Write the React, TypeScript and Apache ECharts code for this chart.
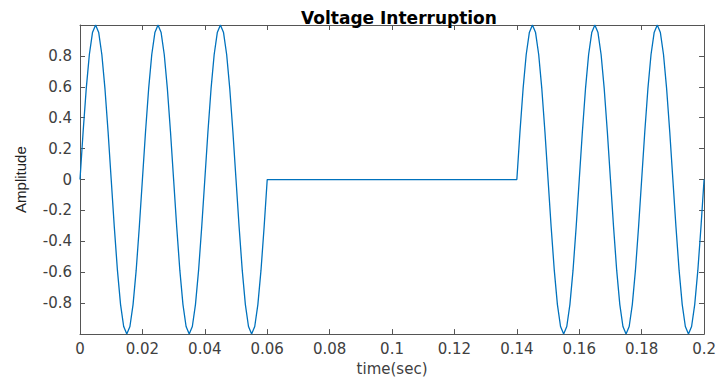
import React, { useEffect, useRef } from "react";
import * as echarts from "echarts";

const chartTitle = "Voltage Interruption";
const xName = "time(sec)";
const yName = "Amplitude";
const sampleStep = 0.001;
const beforeStart = 0;
const afterStart = 0.14;
const xMin = 0;
const xMax = 0.2;
const xInterval = 0.02;
const yMin = -1;
const yMax = 1;
const yInterval = 0.2;

// samples: 3 cycles before the interruption (0 .. 0.06 s)
const waveBefore = [
  0, 0.309, 0.588, 0.809, 0.951, 1, 0.951, 0.809, 0.588, 0.309,
  0, -0.309, -0.588, -0.809, -0.951, -1, -0.951, -0.809, -0.588, -0.309,
  0, 0.309, 0.588, 0.809, 0.951, 1, 0.951, 0.809, 0.588, 0.309,
  0, -0.309, -0.588, -0.809, -0.951, -1, -0.951, -0.809, -0.588, -0.309,
  0, 0.309, 0.588, 0.809, 0.951, 1, 0.951, 0.809, 0.588, 0.309,
  0, -0.309, -0.588, -0.809, -0.951, -1, -0.951, -0.809, -0.588, -0.309,
  0,
];

// 3 cycles after the interruption (0.14 .. 0.2 s)
const waveAfter = [
  0, 0.309, 0.588, 0.809, 0.951, 1, 0.951, 0.809, 0.588, 0.309,
  0, -0.309, -0.588, -0.809, -0.951, -1, -0.951, -0.809, -0.588, -0.309,
  0, 0.309, 0.588, 0.809, 0.951, 1, 0.951, 0.809, 0.588, 0.309,
  0, -0.309, -0.588, -0.809, -0.951, -1, -0.951, -0.809, -0.588, -0.309,
  0, 0.309, 0.588, 0.809, 0.951, 1, 0.951, 0.809, 0.588, 0.309,
  0, -0.309, -0.588, -0.809, -0.951, -1, -0.951, -0.809, -0.588, -0.309,
  0,
];

export default function App() {
  const ref = useRef<HTMLDivElement>(null);

  useEffect(() => {
    if (!ref.current) return;
    const chart = echarts.init(ref.current, undefined, { renderer: "svg" });

    const data: number[][] = [
      ...waveBefore.map((v, i) => [beforeStart + i * sampleStep, v]),
      ...waveAfter.map((v, i) => [afterStart + i * sampleStep, v]),
    ];

    const axisColor = "#555555";
    const labelColor = "#404040";
    const font = "DejaVu Sans";

    const xFmt = (v: number) => String(+v.toFixed(2));
    const yFmt = (v: number) => (Math.abs(v) > 0.999 ? "" : String(+v.toFixed(1)));

    const common = {
      axisLine: { show: true, onZero: false, lineStyle: { color: axisColor, width: 1 } },
      axisTick: { show: true, inside: true, length: 5, lineStyle: { color: axisColor } },
      splitLine: { show: false },
    };

    chart.setOption({
      animation: false,
      backgroundColor: "#ffffff",
      title: {
        text: chartTitle,
        left: 394,
        textAlign: "center",
        top: 4,
        textStyle: { fontFamily: font, fontWeight: "bold", fontSize: 17, color: "#000000" },
      },
      grid: { left: 80, top: 25, right: 12, bottom: 42, containLabel: false },
      xAxis: [
        {
          type: "value",
          min: xMin,
          max: xMax,
          interval: xInterval,
          name: xName,
          nameLocation: "middle",
          nameGap: 24,
          nameTextStyle: { fontFamily: font, fontSize: 15, color: labelColor },
          ...common,
          axisLabel: { formatter: xFmt, margin: 7, fontFamily: font, fontSize: 15, color: labelColor },
        },
        {
          type: "value",
          position: "top",
          min: xMin,
          max: xMax,
          interval: xInterval,
          ...common,
          axisLabel: { show: false },
        },
      ],
      yAxis: [
        {
          type: "value",
          min: yMin,
          max: yMax,
          interval: yInterval,
          name: yName,
          nameLocation: "middle",
          nameGap: 52,
          nameTextStyle: { fontFamily: "Liberation Sans", fontSize: 15, color: "#222222" },
          ...common,
          axisLabel: { formatter: yFmt, margin: 8, fontFamily: font, fontSize: 15, color: labelColor },
        },
        {
          type: "value",
          position: "right",
          min: yMin,
          max: yMax,
          interval: yInterval,
          ...common,
          axisLabel: { show: false },
        },
      ],
      series: [
        {
          type: "line",
          data,
          xAxisIndex: 0,
          yAxisIndex: 0,
          showSymbol: false,
          symbol: "none",
          lineStyle: { color: "#0072BD", width: 1.3 },
          clip: true,
        },
      ],
    });

    return () => chart.dispose();
  }, []);

  return (
    <div
      ref={ref}
      style={{ position: "fixed", left: 0, top: 0, width: 719, height: 381, background: "#fff" }}
    />
  );
}
